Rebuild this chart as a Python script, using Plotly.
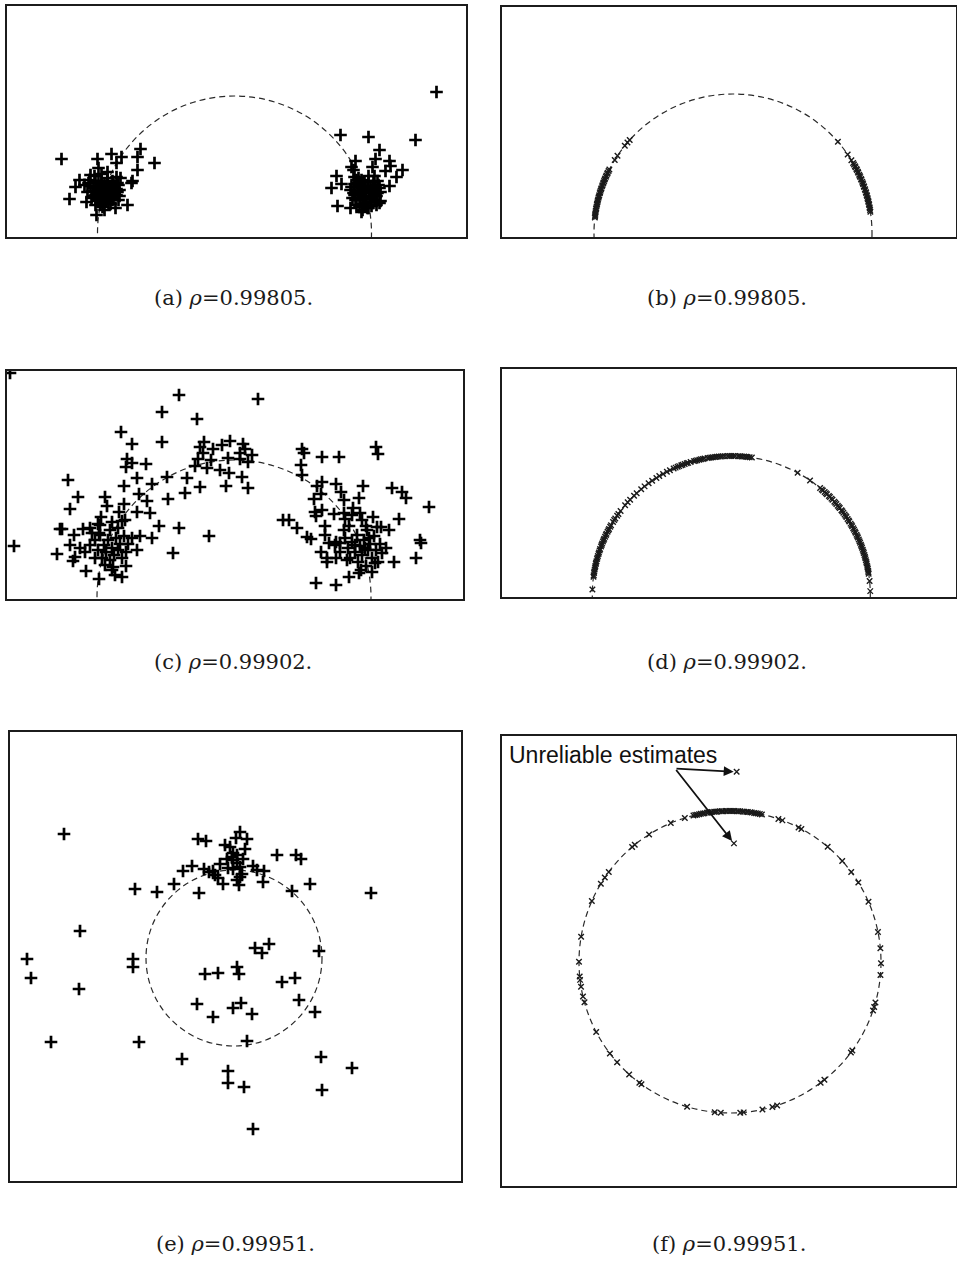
import numpy as np
import plotly.graph_objects as go

W, H = 957, 1261

# ---------------------------------------------------------------------------
# Estimates in panel units: the true-parameter circle is centred at the origin.
# ---------------------------------------------------------------------------

# (a) raw estimates, rho = 0.99805
a_x = [-173, -137, -123, -113, -94, -97, -80, -97, -118, -136, -127, -155, -159, -165, -103, -107, -138, -148, -130, -102,
       -150, -147, -145, -143, -141, -140, -139, -137, -136, -135, -134, -133, -132, -131, -130, -129, -128, -127, -126, -125,
       -124, -123, -122, -121, -120, -119, -118, -117, -116, -115, -114, -137, -132, -128, -125, -131, -135, -123, -120, -127,
       -133, -141, -144, -117, -129, -126, -138, -122, -116,
       -146, -142, -139, -136, -133, -130, -127, -124, -121, -118, -115, -139, -134, -128, -122, -144, -118,
       202, 181, 106, 134, 145, 141, 155, 121, 117, 138, 156, 151, 168, 162, 102, 107, 97, 155, 103, 116, 127, 133, 146, 119, 120,
       116, 118, 120, 122, 123, 124, 126, 127, 128, 129, 130, 131, 132, 133, 134, 135, 136, 137, 138, 139, 140, 141, 142, 144,
       145, 146, 121, 125, 129, 132, 135, 138, 130, 124, 142, 127, 134, 140, 119, 143,
       117, 120, 123, 126, 129, 131, 134, 137, 140, 143, 128, 136, 139, 122, 145, 125]
a_y = [74, 74, 79, 76, 84, 76, 70, 63, 70, 65, 61, 53, 46, 34, 50, 28, 18, 31, 23, 52,
       48, 41, 53, 35, 45, 57, 28, 41, 50, 35, 45, 59, 26, 40, 49, 33, 43, 55, 37, 47,
       29, 41, 52, 35, 45, 25, 38, 50, 33, 43, 55, 33, 45, 37, 41, 31, 39, 47, 39, 48,
       36, 37, 47, 41, 45, 29, 47, 33, 48,
       50, 42, 52, 44, 52, 36, 51, 44, 48, 44, 37, 38, 30, 32, 38, 58, 56,
       141, 93, 98, 96, 83, 74, 72, 72, 66, 66, 67, 62, 63, 56, 57, 49, 45, 47, 27, 25, 21, 25, 32, 63, 56,
       43, 35, 49, 28, 41, 55, 33, 45, 23, 37, 51, 41, 30, 45, 57, 35, 47, 27, 40, 51, 33, 44, 37, 48,
       30, 41, 33, 39, 45, 35, 41, 45, 27, 47, 28, 53, 25, 57, 40, 40,
       46, 38, 50, 42, 34, 47, 52, 43, 38, 52, 29, 31, 47, 53, 45, 26]

# (b) refined estimates on the circle, angle in degrees
b_angle = [138.0, 139.4, 141.1, 146.2, 148.3, 152.8, 153.5, 154.3, 154.8, 155.6, 156.1, 156.9, 157.4, 158.0, 158.7,
           159.1, 159.9, 160.4, 161.2, 161.7, 162.3, 163.0, 163.4, 164.2, 164.8, 165.3, 166.1, 166.6, 167.2, 167.9,
           168.3, 169.0, 169.7, 170.1, 170.8, 171.4, 172.0, 172.6, 173.1, 173.6,
           41.0, 34.4, 31.6, 30.2, 29.5, 28.7, 28.2, 27.4, 26.9, 26.1, 25.7, 24.8, 24.2, 23.7, 22.9, 22.5, 21.6, 21.0,
           20.5, 19.7, 19.3, 18.4, 17.9, 17.1, 16.7, 15.9, 15.4, 14.6, 14.1, 13.3, 12.9, 12.0, 11.6, 10.7, 10.3, 9.5, 8.8]

# (c) raw estimates, rho = 0.99902
c_x = [-224,
       -55, -72, -37, -113, -102, -72, -107, -102, -108, -88, -166, -97, -110, -82, -67, -47, -34, -49, -156, -129,
       -95, -66, -164, -127, -110, -87, -115, -97, -84, -133, -122, -112, -136, -174, -172, -144, -151, -160, -135, -75,
       -55, -25, -94, -82, -102, -220, -164, -177, -61, -159, -161, -148, -135, -112, -122, -108, -97,
       -30, -34, -21, -12, -4, -36, -27, -14, -6, -5, -8, -31, -23, -39,
       -144, -139, -136, -134, -132, -130, -128, -126, -124, -122, -120, -118, -116, -114, -112, -110, -108, -129, -139, -149,
       -121, -106, -134, -124, -116, -142, -154, -119, -109,
       24, 9, 11, 6, 18, 6, 14, 8, 14, 68, 70, 88, 105, 142, 144, 67, 68, 88, 83, 102, 107, 129, 158, 168, 172, 195, 87, 80,
       110, 125, 119, 81, 82, 88, 100, 110, 111, 118, 126, 128, 139, 49, 55, 63, 91, 115, 132, 143, 147, 165, 155, 73, 77,
       91, 95, 102, 106, 186, 187, 87, 93, 93, 102, 160, 182, 141, 138, 125, 115, 82, 102,
       101, 106, 111, 114, 116, 118, 121, 123, 124, 126, 128, 130, 132, 134, 136, 138, 140, 142, 144, 146, 148, 131, 121,
       127, 135, 113, 152, 110, 133]
c_y = [224,
       202, 185, 178, 165, 153, 155, 138, 134, 130, 133, 117, 119, 111, 113, 120, 119, 110, 104, 100, 100,
       103, 98, 88, 91, 93, 96, 85, 85, 84, 80, 75, 76, 73, 68, 68, 69, 68, 62, 64, 71,
       69, 61, 61, 59, 59, 51, 52, 43, 44, 40, 36, 26, 18, 20, 27, 31, 47,
       155, 150, 148, 152, 156, 138, 129, 127, 139, 124, 111, 144, 137, 131,
       52, 57, 47, 62, 39, 52, 45, 57, 37, 49, 42, 59, 47, 53, 39, 61, 45, 32, 39, 45,
       30, 53, 72, 67, 69, 64, 49, 22, 77,
       198, 153, 148, 144, 142, 138, 135, 120, 109, 148, 144, 140, 140, 150, 143, 132, 122, 115, 111, 113, 105, 111, 109, 105,
       99, 90, 103, 98, 97, 99, 89, 85, 81, 87, 83, 84, 78, 82, 84, 77, 80, 77, 77, 69, 71, 71, 71, 70, 70, 78, 67, 60, 58,
       62, 54, 55, 54, 57, 54, 45, 39, 35, 39, 35, 39, 34, 25, 24, 20, 14, 12,
       52, 45, 59, 49, 39, 55, 45, 62, 35, 51, 42, 57, 31, 47, 53, 39, 61, 47, 35, 53, 44, 49, 52,
       27, 59, 37, 49, 67, 67]

# (d) refined estimates on the circle, angle in degrees
d_angle = [177.7, 172.5, 171.8, 170.9, 170.3, 169.4, 168.6, 168.0, 167.1, 166.6, 165.9, 165.0, 164.4, 163.7, 162.8,
           162.2, 161.3, 160.7, 159.6, 158.9, 158.3, 157.4, 156.7, 156.1, 155.2, 154.4, 153.9, 152.9, 152.2, 151.6,
           150.6, 149.9, 148.3, 147.4, 146.6, 145.2, 144.3, 142.8, 139.8, 138.2, 136.7, 134.4, 132.9, 130.4, 128.6,
           126.5, 124.7, 122.6, 121.2, 119.4, 117.6, 116.2, 114.5, 113.6, 112.7, 112.0, 111.1, 110.5, 109.6, 108.7,
           108.1, 107.0, 105.6, 104.9, 104.2, 103.3, 102.6, 101.8, 101.1, 99.8, 99.0, 98.3, 97.6, 96.7, 96.0, 95.2,
           94.3, 93.6, 92.7, 91.5, 90.7, 90.0, 89.2, 88.4, 87.1, 86.3, 85.6, 84.7, 83.9, 83.3, 82.4, 81.5,
           61.5, 55.5, 50.3, 49.4, 48.8, 47.8, 47.1, 46.5, 45.4, 44.8, 43.9, 43.3, 42.2, 41.6, 40.9, 40.0, 39.3, 38.7,
           37.6, 37.0, 36.3, 35.4, 34.7, 34.1, 33.2, 32.4, 31.9, 30.9, 30.2, 29.6, 28.7, 28.0, 27.2, 26.6, 25.7, 25.0,
           24.4, 23.5, 22.7, 22.1, 21.2, 20.5, 19.9, 19.0, 18.2, 17.6, 16.7, 16.0, 15.3, 14.5, 13.7, 13.1, 12.2, 11.5,
           10.9, 10.0, 9.4, 8.8, 5.8, 1.6]

# (e) raw estimates, rho = 0.99951
e_x = [-170, -36, -28, 6, 2, 13, -9, -4, 11, -1, 3, -2, -7, 43, 62, 67, -14, -6, -1, 6, 3, -42, -51, -30, -21, -19,
       -25, 19, 23, 30, 8, 3, 5, -11, 29, -60, -99, -77, -35, 58, 76, 137, -154, -207, -203, -155, -101, -101, 21, 35,
       28, 85, 3, 5, -29, -16, 48, 61, -37, -1, 7, -21, 18, 65, 81, -183, -95, 13, -52, -6, -6, 10, 87, 118, 88, 19,
       -1, 6, -16, 9]
e_y = [124, 119, 117, 126, 120, 119, 113, 111, 109, 105, 103, 101, 99, 103, 103, 99, 94, 90, 89, 91, 95, 92, 87, 89,
       87, 83, 86, 92, 88, 87, 84, 78, 73, 74, 76, 74, 69, 66, 65, 67, 74, 65, 27, -1, -20, -31, -1, -9, 10, 14, 5, 7,
       -9, -16, -16, -15, -24, -20, -46, -50, -45, -59, -56, -42, -54, -84, -84, -83, -101, -113, -125, -129, -99,
       -110, -132, -171, 98, 81, 80, 99]

# (f) refined estimates on the circle, angle in degrees
f_angle = [107.4, 104.0, 103.3, 102.6, 101.8, 101.1, 100.3, 99.7, 98.8, 98.3, 97.4, 96.9, 96.0, 95.3, 94.8, 93.9,
           93.1, 92.6, 91.7, 91.2, 90.3, 89.6, 88.9, 88.3, 87.4, 86.8, 86.1, 85.2, 84.6, 83.8, 83.2, 82.3, 81.7,
           80.8, 80.1, 79.4, 78.6, 77.8,
           113.1, 122.4, 129.1, 130.4, 143.4, 146.0, 148.8, 156.2, 170.4, 179.9, 185.5, 186.8, 189.4, 193.2, 195.5,
           207.6, 217.3, 221.6, 228.1, 233.1, 234.1, 253.5, 264.2, 266.5, 273.9, 275.2, 282.4, 286.3, 288.2, 306.9,
           308.7, 323.2, 324.1, 341.3, 342.7, 344.4, 355.1, 359.5, 5.2, 11.5, 23.5, 31.8, 36.6, 42.0, 49.7, 61.8,
           63.0, 69.7, 71.3]
# two estimates that left the circle (relative modulus, angle)
f_bad_radius = [1.26, 0.786]
f_bad_angle = [88.0, 88.1]

labels = ["(a)", "(b)", "(c)", "(d)", "(e)", "(f)"]
rho = [0.99805, 0.99805, 0.99902, 0.99902, 0.99951, 0.99951]

# ---------------------------------------------------------------------------
# Layout of the six panels (pixel box in the page, data ranges, circle radius)
# ---------------------------------------------------------------------------
PANELS = [
    dict(box=(7, 466, 6, 237), xr=(-227.5, 231.5), yr=(-4, 227), R=137, cap=(233, 298)),
    dict(box=(502, 956, 7, 237), xr=(-231, 223), yr=(-4, 226), R=139, cap=(727, 298)),
    dict(box=(7, 463, 371, 599), xr=(-227, 229), yr=(-2, 226), R=137, cap=(233, 662)),
    dict(box=(502, 956, 369, 597), xr=(-229.3, 224.7), yr=(-2, 226), R=139, cap=(727, 662)),
    dict(box=(10, 461, 732, 1181), xr=(-224, 227), yr=(-223, 226), R=88, cap=(235, 1244)),
    dict(box=(502, 956, 736, 1186), xr=(-228, 226), yr=(-224, 226), R=151, cap=(729, 1244)),
]

AX = dict(showgrid=False, zeroline=False, showticklabels=False, ticks="",
          showline=True, mirror=True, linecolor="#1c1c1c", linewidth=1.5, fixedrange=True)

RAW_MARK = dict(symbol="cross-thin", size=9, color="black", line=dict(width=2.7, color="black"))
FIT_MARK = dict(symbol="x-thin", size=5.5, color="#1a1a1a", line=dict(width=1.4, color="#1a1a1a"))
CIRCLE_LINE = dict(color="#2a2a2a", width=1.2, dash="6px,4px")

fig = go.Figure()
layout = {}
annotations = []
shapes = []


def on_circle(angles, R, radius=None):
    t = np.radians(np.asarray(angles, dtype=float))
    r = R * (np.asarray(radius, dtype=float) if radius is not None else 1.0)
    return r * np.cos(t), r * np.sin(t)


series = [
    ("raw", a_x, a_y),
    ("fit", b_angle, None),
    ("raw", c_x, c_y),
    ("fit", d_angle, None),
    ("raw", e_x, e_y),
    ("fit", f_angle, None),
]

for i, (p, (kind, u, v)) in enumerate(zip(PANELS, series), start=1):
    sfx = "" if i == 1 else str(i)
    x0, x1, y0, y1 = p["box"]
    layout["xaxis" + sfx] = dict(domain=[x0 / W, x1 / W], range=list(p["xr"]), anchor="y" + sfx, **AX)
    layout["yaxis" + sfx] = dict(domain=[1 - y1 / H, 1 - y0 / H], range=list(p["yr"]), anchor="x" + sfx, **AX)

    R = p["R"]
    shapes.append(dict(type="circle", xref="x" + sfx, yref="y" + sfx,
                       x0=-R, y0=-R, x1=R, y1=R, line=CIRCLE_LINE, layer="below"))

    if kind == "raw":
        xs, ys, mk = u, v, RAW_MARK
    else:
        xs, ys = on_circle(u, R)
        mk = FIT_MARK
    fig.add_trace(go.Scatter(x=xs, y=ys, mode="markers", marker=mk,
                             xaxis="x" + sfx, yaxis="y" + sfx,
                             showlegend=False, hoverinfo="skip"))

    cx, cy = p["cap"]
    annotations.append(dict(xref="paper", yref="paper", x=cx / W, y=1 - cy / H,
                            text=f"{labels[i - 1]} <i>ρ</i>={rho[i - 1]:.5f}.",
                            showarrow=False, xanchor="center", yanchor="middle",
                            font=dict(family="DejaVu Serif", size=21, color="#1a1a1a")))

# unreliable estimates in panel (f)
Rf = PANELS[5]["R"]
bx, by = on_circle(f_bad_angle, Rf, f_bad_radius)
fig.add_trace(go.Scatter(x=bx, y=by, mode="markers", marker=FIT_MARK,
                         xaxis="x6", yaxis="y6", showlegend=False, hoverinfo="skip"))

annotations.append(dict(xref="x6", yref="y6", x=-223, y=207, text="Unreliable estimates",
                        showarrow=False, xanchor="left", yanchor="middle",
                        font=dict(family="Liberation Sans", size=23, color="#111")))
for tx, ty in zip(bx, by):
    annotations.append(dict(xref="x6", yref="y6", x=tx, y=ty, axref="x6", ayref="y6",
                            ax=-55, ay=193.5, text="", showarrow=True,
                            arrowhead=2, arrowsize=1.1, arrowwidth=1.8, arrowcolor="#111",
                            standoff=3))

fig.update_layout(width=W, height=H, margin=dict(l=0, r=0, t=0, b=0),
                  paper_bgcolor="white", plot_bgcolor="white",
                  annotations=annotations, shapes=shapes, **layout)

fig.write_html("out.html")
